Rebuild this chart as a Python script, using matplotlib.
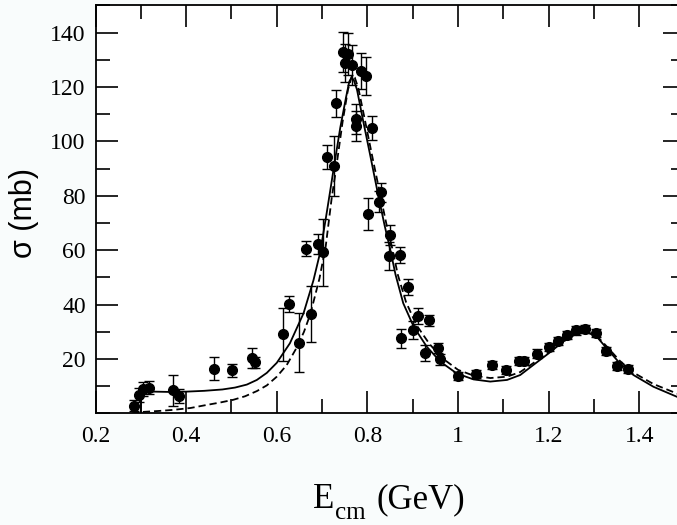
import numpy as np
import matplotlib
matplotlib.use("Agg")
import matplotlib.pyplot as plt
from matplotlib.ticker import MultipleLocator, FixedLocator, FuncFormatter

# measured cross sections: energy (GeV), sigma (mb), error (mb)
e_data = [0.286, 0.295, 0.304, 0.317, 0.371, 0.385, 0.461, 0.501, 0.545, 0.551,
          0.613, 0.626, 0.650, 0.665, 0.675, 0.690, 0.701, 0.711, 0.726, 0.730,
          0.745, 0.751, 0.757, 0.766, 0.775, 0.775, 0.785, 0.796, 0.801, 0.810,
          0.825, 0.830, 0.848, 0.850, 0.871, 0.875, 0.890, 0.901, 0.911, 0.928,
          0.935, 0.956, 0.961, 1.000, 1.040, 1.075, 1.106, 1.135, 1.146, 1.175,
          1.200, 1.220, 1.240, 1.260, 1.281, 1.305, 1.327, 1.351, 1.374]
sig_data = [2.8, 6.8, 8.9, 9.5, 8.5, 6.5, 16.4, 15.8, 20.5, 18.8,
            29.1, 40.2, 26.0, 60.6, 36.5, 62.3, 59.2, 94.2, 91.1, 114.0,
            132.9, 128.9, 132.1, 128.0, 108.2, 105.8, 126.0, 124.0, 73.2, 105.0,
            77.9, 81.3, 57.9, 65.7, 58.3, 27.6, 46.4, 30.7, 35.8, 22.3,
            34.2, 23.9, 19.9, 13.7, 14.4, 17.7, 16.0, 19.2, 19.4, 22.0,
            24.4, 26.5, 28.7, 30.5, 31.1, 29.6, 22.9, 17.4, 16.4]
err_data = [2.0, 2.5, 2.5, 2.5, 5.7, 2.5, 4.3, 2.5, 3.7, 2.0,
            9.7, 2.8, 10.8, 2.9, 10.4, 3.7, 12.3, 4.4, 11.0, 4.9,
            7.4, 7.0, 7.6, 7.4, 5.5, 5.5, 6.6, 7.0, 5.9, 4.4,
            4.0, 3.5, 5.0, 3.7, 3.0, 3.6, 3.0, 3.4, 2.8, 2.9,
            2.0, 1.8, 2.1, 1.5, 1.5, 1.5, 1.5, 1.5, 1.5, 1.5,
            1.5, 1.5, 1.5, 1.5, 1.5, 1.5, 1.5, 1.5, 1.5]

# model curves
e_solid = [0.300, 0.301, 0.33, 0.36, 0.40, 0.44, 0.48, 0.508, 0.534, 0.556, 0.578,
           0.600, 0.629, 0.659, 0.681, 0.696, 0.710, 0.718, 0.725, 0.740, 0.753,
           0.760, 0.765, 0.770, 0.777, 0.790, 0.806, 0.824, 0.838, 0.850, 0.862,
           0.879, 0.902, 0.931, 0.961, 0.997, 1.034, 1.071, 1.108, 1.137, 1.166,
           1.200, 1.232, 1.262, 1.284, 1.306, 1.328, 1.357, 1.387, 1.431, 1.483, 1.500]
sig_solid = [0.0, 8.1, 8.0, 7.9, 8.0, 8.3, 8.8, 9.5, 10.6, 12.3, 14.9,
             18.6, 25.8, 36.8, 49.0, 59.4, 73.6, 82.0, 89.5, 105.0, 116.4,
             122.0, 123.5, 122.5, 119.0, 108.0, 95.0, 80.0, 69.0, 60.5, 51.0,
             40.5, 31.9, 24.5, 19.0, 14.7, 12.5, 11.7, 12.3, 14.1, 17.8,
             22.1, 26.4, 29.4, 30.0, 28.2, 23.9, 18.4, 14.1, 9.8, 6.1, 5.2]

e_dash = [0.280, 0.300, 0.340, 0.372, 0.410, 0.445, 0.475, 0.504, 0.530, 0.556,
          0.578, 0.600, 0.622, 0.645, 0.660, 0.674, 0.694, 0.708, 0.721, 0.730,
          0.745, 0.757, 0.766, 0.772, 0.780, 0.793, 0.810, 0.828, 0.842, 0.855,
          0.867, 0.885, 0.908, 0.937, 0.966, 1.000, 1.034, 1.071, 1.108, 1.137,
          1.166, 1.200, 1.232, 1.262, 1.284, 1.306, 1.328, 1.357, 1.387, 1.431,
          1.483, 1.500]
sig_dash = [0.0, 0.5, 0.9, 1.3, 2.0, 3.1, 4.0, 5.0, 6.3, 8.2,
            10.3, 13.5, 17.8, 24.5, 30.0, 36.5, 49.5, 61.5, 79.0, 89.0,
            107.0, 119.0, 124.3, 123.5, 119.5, 109.0, 95.0, 80.5, 69.5, 60.5,
            51.0, 41.0, 32.5, 25.5, 20.2, 16.0, 13.9, 13.0, 13.5, 15.2,
            18.5, 22.5, 26.4, 29.2, 29.8, 28.5, 24.6, 19.3, 15.0, 10.8,
            7.3, 6.4]

bg = '#f9fcfc'
fig = plt.figure(figsize=(6.77, 5.25), dpi=100, facecolor=bg)
# right spine sits just past the image edge, as in the original
ax = fig.add_axes([95.5/677, 111.6/525, 589.2/677, 408/525])
ax.set_facecolor('white')

ax.plot(e_solid, sig_solid, color='black', lw=1.3, zorder=2)
ax.plot(e_dash, sig_dash, color='black', lw=1.3, dashes=(4, 2.2), zorder=2)
ax.errorbar(e_data, sig_data, yerr=err_data, fmt='o', color='black', ms=7,
            ecolor='black', elinewidth=1.0, capsize=3.6, capthick=1.0, zorder=3)

ax.set_xlim(0.2, 1.5)
ax.set_ylim(0, 150)
ax.xaxis.set_major_locator(MultipleLocator(0.2))
ax.xaxis.set_minor_locator(MultipleLocator(0.1))
ax.yaxis.set_major_locator(FixedLocator(np.arange(20, 141, 20)))
ax.yaxis.set_minor_locator(MultipleLocator(10))
ax.xaxis.set_major_formatter(FuncFormatter(lambda v, p: '%g' % round(v, 2)))

ax.tick_params(which='both', direction='in', top=True, right=True, width=1.2)
ax.tick_params(which='major', length=15.8)
ax.tick_params(which='minor', length=10)
ax.tick_params(axis='x', pad=9)
ax.tick_params(axis='y', pad=7)
for lab in ax.get_xticklabels() + ax.get_yticklabels():
    lab.set_fontfamily('Liberation Serif')
    lab.set_fontsize(17)
for sp in ax.spines.values():
    sp.set_linewidth(1.3)

fig.text(24/677, 1 - 213/525, 'σ (mb)', rotation=90, ha='center', va='center',
         fontsize=22, family='Liberation Sans')

# x label built from pieces so the subscript drops like in the original
fig.text(313/677, 17/525, 'E', ha='left', va='baseline', fontsize=25,
         family='Liberation Serif')
fig.text(335/677, 6/525, 'cm', ha='left', va='baseline', fontsize=18,
         family='Liberation Serif')
fig.text(376/677, 17/525, '(GeV)', ha='left', va='baseline', fontsize=25,
         family='Liberation Serif')

fig.savefig('out.png', dpi=100, facecolor=bg)
